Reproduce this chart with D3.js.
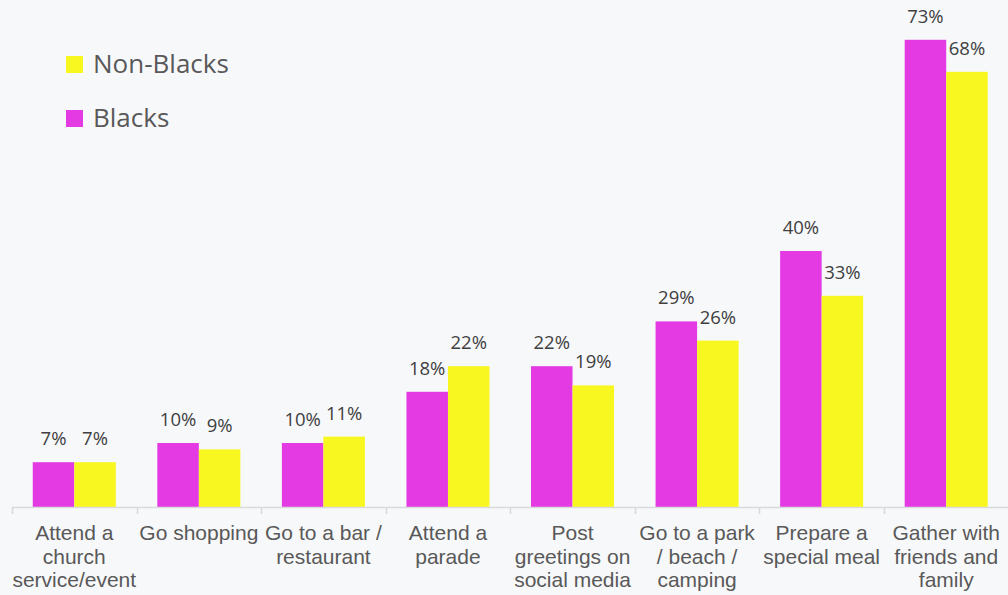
<!DOCTYPE html>
<html>
<head>
<meta charset="utf-8">
<script src="https://cdn.jsdelivr.net/npm/d3@7"></script>
<style>
  html, body { margin: 0; padding: 0; background: #F7F8FA; }
  svg { display: block; }
</style>
</head>
<body>
<div id="chart"></div>
<script>
// Activities (line breaks as in the original slide)
let categories = [
    'Attend a\nchurch\nservice/event',
    'Go shopping',
    'Go to a bar /\nrestaurant',
    'Attend a\nparade',
    'Post\ngreetings on\nsocial media',
    'Go to a park\n/ beach /\ncamping',
    'Prepare a\nspecial meal',
    'Gather with\nfriends and\nfamily'
];

// Share of respondents (%)
let blacks = [7, 10, 10, 18, 22, 29, 40, 73];
let nonBlacks = [7, 9, 11, 22, 19, 26, 33, 68];

let seriesNames = ['Blacks', 'Non-Blacks'];
let seriesColors = { 'Blacks': '#E43AE4', 'Non-Blacks': '#F8F820' };

let svgWidth = 1008,
    svgHeight = 595;

let svg = d3.select('#chart')
    .append('svg')
    .attr('width', svgWidth)
    .attr('height', svgHeight);

let baseline = 507;

// Scales
let x0 = d3.scaleBand()
    .domain(categories)
    .range([12, 1008.5]);

let x1 = d3.scaleBand()
    .domain(seriesNames)
    .range([0, x0.bandwidth()])
    .paddingOuter(0.5);

let y = d3.scaleLinear()
    .domain([0, 80])
    .range([baseline, baseline - 512]);

let rows = categories.map((c, i) => ({
    category: c,
    values: [
        { name: 'Blacks', value: blacks[i] },
        { name: 'Non-Blacks', value: nonBlacks[i] }
    ]
}));

// Bars
let groups = svg.append('g')
    .selectAll('g')
    .data(rows)
    .enter()
    .append('g')
    .attr('transform', d => `translate(${x0(d.category)},0)`);

groups.selectAll('rect')
    .data(d => d.values)
    .enter()
    .append('rect')
    .attr('x', d => x1(d.name))
    .attr('width', x1.bandwidth())
    .attr('y', d => y(d.value))
    .attr('height', d => y(0) - y(d.value))
    .attr('fill', d => seriesColors[d.name]);

// Value labels
groups.selectAll('text')
    .data(d => d.values)
    .enter()
    .append('text')
    .attr('x', d => x1(d.name) + x1.bandwidth() / 2)
    .attr('y', d => y(d.value) - 17)
    .attr('text-anchor', 'middle')
    .style('font-family', '"Open Sans", sans-serif')
    .style('font-size', '18.5px')
    .attr('fill', '#404040')
    .text(d => d.value + '%');

// Category axis
let axis = svg.append('g');

axis.append('line')
    .attr('x1', x0.range()[0])
    .attr('x2', x0.range()[1])
    .attr('y1', baseline + 0.5)
    .attr('y2', baseline + 0.5)
    .attr('stroke', '#D9D9D9')
    .attr('stroke-width', 1.5);

axis.selectAll('.tick')
    .data(categories)
    .enter()
    .append('line')
    .attr('x1', d => Math.round(x0(d)) + 0.5)
    .attr('x2', d => Math.round(x0(d)) + 0.5)
    .attr('y1', baseline)
    .attr('y2', baseline + 7)
    .attr('stroke', '#D9D9D9')
    .attr('stroke-width', 1.5);

axis.selectAll('.cat')
    .data(categories)
    .enter()
    .append('text')
    .attr('text-anchor', 'middle')
    .style('font-family', '"Liberation Sans", Arial, sans-serif')
    .style('font-size', '21px')
    .attr('fill', '#595959')
    .each(function (d) {
        let t = d3.select(this);
        d.split('\n').forEach((line, i) => {
            t.append('tspan')
                .attr('x', x0(d) + x0.bandwidth() / 2)
                .attr('y', 540 + i * 23.5)
                .text(line);
        });
    });

// Legend
let legendItems = ['Non-Blacks', 'Blacks'];
let legend = svg.append('g')
    .selectAll('g')
    .data(legendItems)
    .enter()
    .append('g')
    .attr('transform', (d, i) => `translate(66,${56 + i * 54})`);

legend.append('rect')
    .attr('width', 17)
    .attr('height', 17)
    .attr('fill', d => seriesColors[d]);

legend.append('text')
    .attr('x', 27)
    .attr('y', 17)
    .style('font-family', '"Open Sans", sans-serif')
    .style('font-size', '26px')
    .attr('fill', '#595959')
    .text(d => d);
</script>
</body>
</html>
